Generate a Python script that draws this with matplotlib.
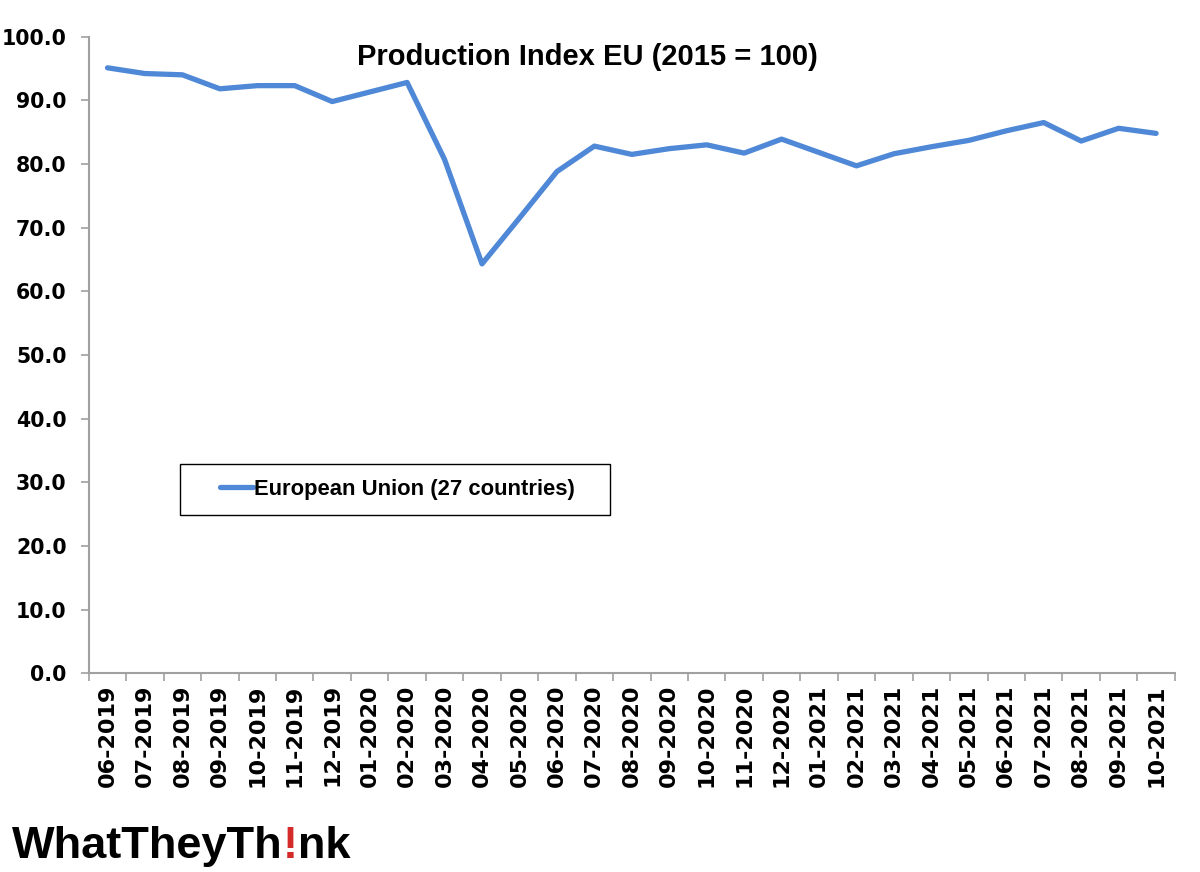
import matplotlib
matplotlib.use('Agg')
import matplotlib.pyplot as plt
from matplotlib.ticker import FixedLocator
from matplotlib.patches import Rectangle

months = ['06-2019', '07-2019', '08-2019', '09-2019', '10-2019', '11-2019', '12-2019',
          '01-2020', '02-2020', '03-2020', '04-2020', '05-2020', '06-2020', '07-2020',
          '08-2020', '09-2020', '10-2020', '11-2020', '12-2020', '01-2021', '02-2021',
          '03-2021', '04-2021', '05-2021', '06-2021', '07-2021', '08-2021', '09-2021',
          '10-2021']
eu27 = [95.1, 94.2, 94.0, 91.8, 92.3, 92.3, 89.8, 91.3, 92.8, 80.7, 64.3, 71.5,
        78.8, 82.8, 81.5, 82.4, 83.0, 81.7, 83.9, 81.8, 79.7, 81.6, 82.7, 83.7,
        85.2, 86.5, 83.6, 85.6, 84.8]

plt.rcParams['font.family'] = ['Liberation Sans', 'DejaVu Sans']

fig = plt.figure(figsize=(12, 8.72), dpi=100)
ax = fig.add_axes([0.074, 0.228, 0.905, 0.730])

x = list(range(len(months)))
ax.plot(x, eu27, color='#4F88D6', linewidth=3.8, solid_capstyle='round',
        solid_joinstyle='round', label='European Union (27 countries)')

ax.set_xlim(-0.5, len(months) - 0.5)
ax.set_ylim(0, 100)
ax.set_yticks([i * 10 for i in range(11)])
ax.set_yticklabels([f'{i * 10:.1f}' for i in range(11)], fontsize=14.8,
                   fontweight='bold', family='DejaVu Sans')

ax.set_xticks(x)
ax.set_xticklabels(months, rotation=90, fontsize=16, fontweight='bold', family='DejaVu Sans')
ax.tick_params(axis='x', which='major', length=0, pad=8)
ax.xaxis.set_minor_locator(FixedLocator([i - 0.5 for i in range(len(months) + 1)]))
ax.tick_params(axis='x', which='minor', length=6, color='#A0A0A0', width=1.2)
ax.tick_params(axis='y', length=6, color='#A0A0A0', width=1.2, pad=10)

for s in ['top', 'right']:
    ax.spines[s].set_visible(False)
for s in ['left', 'bottom']:
    ax.spines[s].set_color('#A0A0A0')
    ax.spines[s].set_linewidth(1.5)

ax.text(0.459, 0.99, 'Production Index EU (2015 = 100)', transform=ax.transAxes,
        ha='center', va='top', fontsize=21, fontweight='bold')

# legend box drawn separately so the entry sits where it does in the original
ax.add_patch(Rectangle((0.0838, 0.2484), 0.396, 0.0802, transform=ax.transAxes,
                       facecolor='white', edgecolor='black', linewidth=1.0, zorder=4))
leg = ax.legend(loc='center left', bbox_to_anchor=(0.121, 0.2885), frameon=False,
                handlelength=1.5, handletextpad=0.05, borderpad=0, borderaxespad=0,
                prop={'size': 15.8, 'weight': 'bold'})
leg.set_zorder(5)

# logo
fig.canvas.draw()
r = fig.canvas.get_renderer()
logo_font = dict(fontsize=32.5, fontweight='bold')
base = 1 - 858 / 872
t1 = fig.text(12 / 1200, base, 'WhatTheyTh', color='black', va='baseline', **logo_font)
bb = t1.get_window_extent(r)
t2 = fig.text(bb.x1 / 1200, base, '!', color='#D42A2A', va='baseline', **logo_font)
bb2 = t2.get_window_extent(r)
fig.text(bb2.x1 / 1200, base, 'nk', color='black', va='baseline', **logo_font)

fig.savefig('out.png', dpi=100)
